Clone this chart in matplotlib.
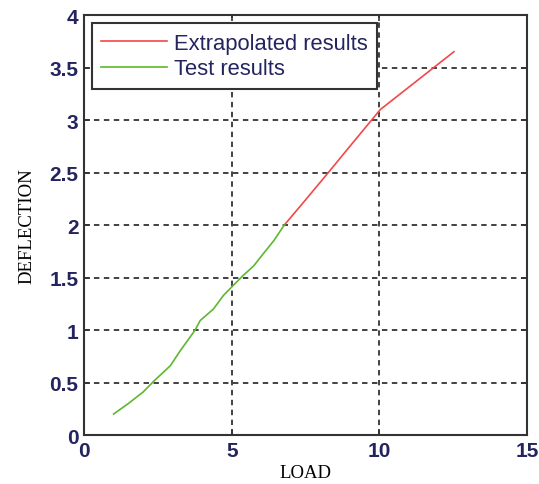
import matplotlib
matplotlib.use("Agg")
import matplotlib.pyplot as plt

# values
test_load = [1.0, 1.5, 2.0, 2.35, 2.92, 3.25, 3.76, 3.93, 4.38, 4.72, 5.0, 5.35, 5.74, 6.02, 6.42, 6.78]
test_defl = [0.2, 0.3, 0.41, 0.51, 0.66, 0.80, 1.0, 1.09, 1.2, 1.33, 1.41, 1.51, 1.61, 1.71, 1.85, 2.0]
extrap_load = [6.78, 7.5, 8.27, 9.0, 9.5, 10.03, 10.8, 11.84, 12.52]
extrap_defl = [2.0, 2.24, 2.5, 2.75, 2.92, 3.1, 3.27, 3.5, 3.65]
x_ticks = [0, 5, 10, 15]
y_ticks = [0, 0.5, 1, 1.5, 2, 2.5, 3, 3.5, 4]
y_ticklabels = ['0', '0.5', '1', '1.5', '2', '2.5', '3', '3.5', '4']

TICK_COLOR = '#24245e'
RED = '#f24848'
GREEN = '#5cb82e'

fig = plt.figure(figsize=(5.39, 4.85), dpi=100)
ax = fig.add_axes([0.156, 0.101, 0.822, 0.866])

red_line, = ax.plot(extrap_load, extrap_defl, color=RED, linewidth=1.2, label='Extrapolated results')
green_line, = ax.plot(test_load, test_defl, color=GREEN, linewidth=1.2, label='Test results')

ax.set_xlim(0, 15)
ax.set_ylim(0, 4)
ax.set_xticks(x_ticks)
ax.set_yticks(y_ticks)
ax.set_yticklabels(y_ticklabels)
ax.tick_params(direction='in', length=4, width=1.2, top=True, right=True,
               labelsize=15, labelcolor=TICK_COLOR, color='#333333', pad=4)
for lab in ax.get_xticklabels() + ax.get_yticklabels():
    lab.set_family('Liberation Sans')
    lab.set_fontweight('bold')

ax.grid(True, color='#333333', linestyle=(0, (3, 2.5)), linewidth=1.3)
ax.set_axisbelow(True)
for spine in ax.spines.values():
    spine.set_color('#333333')
    spine.set_linewidth(1.5)

ax.set_xlabel('LOAD', family='Liberation Serif', fontsize=13.5, labelpad=3)
ax.set_ylabel('DEFLECTION', family='Liberation Serif', fontsize=13.5, labelpad=10)

leg = ax.legend(handles=[red_line, green_line], loc='upper left',
                bbox_to_anchor=(0.017, 0.98), fancybox=False, shadow=False,
                framealpha=1, edgecolor='#333333', handlelength=3.0,
                handletextpad=0.35, borderpad=0.42, labelspacing=0.22,
                borderaxespad=0, prop={'family': 'Liberation Sans', 'size': 15.8})
leg.get_frame().set_linewidth(1.5)
for txt in leg.get_texts():
    txt.set_color(TICK_COLOR)

fig.savefig('out.png', dpi=100)
